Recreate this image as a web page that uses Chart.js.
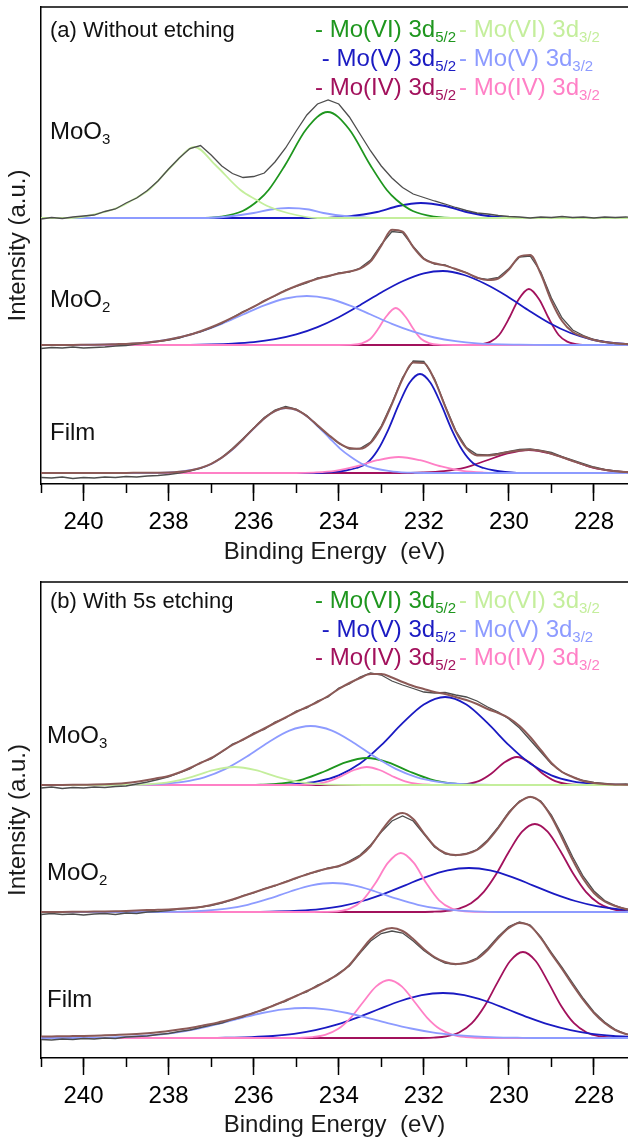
<!DOCTYPE html>
<html>
<head>
<meta charset="utf-8">
<script src="https://cdn.jsdelivr.net/npm/chart.js@4.4.0/dist/chart.umd.min.js"></script>
<style>
  body { margin: 0; background: #fff; }
  canvas { display: block; }
</style>
</head>
<body>
<canvas id="chartA" width="628" height="575"></canvas>
<canvas id="chartB" width="628" height="567"></canvas>
<script>
// binding energy grid (eV) for measured spectra and envelopes
const energy = [241,240.75,240.5,240.25,240,239.75,239.5,239.25,239,238.75,238.5,238.25,238,237.75,237.5,237.25,237,236.75,236.5,236.25,236,235.75,235.5,235.25,235,234.75,234.5,234.25,234,233.75,233.5,233.25,233,232.75,232.5,232.25,232,231.75,231.5,231.25,231,230.75,230.5,230.25,230,229.75,229.5,229.25,229,228.75,228.5,228.25,228,227.75,227.5,227.25,227];

const sampleNames = [["MoO", "3"], ["MoO", "2"], ["Film", ""]];
const offsetsA = [266, 139, 11];
const offsetsB = [273, 146, 20];
const xTicks = [240, 238, 236, 234, 232, 230, 228];

// ---- (a) without etching ----
const a3_raw = [-1,0.5,-0.5,1,2,3,6.5,9,15,20,27.5,37,49,60,69.5,72.5,63,52,44.5,40.5,41.5,45,56,70,87,103,114,118,114,101,84,67,52,40,30.5,24,20.5,17,14,10.5,7.5,5,4,2.5,1.5,1,0,1,0.5,1.5,0.5,1,0,1,0.5,1,0.5];
const a3_VI32 = [[241.2,0],[240.3,0],[239.6,5],[239.1,12],[238.85,18],[238.47,28],[237.9,53],[237.39,71],[236.9,53],[236.31,28],[235.93,18],[235.68,12],[235.2,5],[234.5,0],[227,0]];
const a3_VI52 = [[241.2,0],[237.3,0],[236.76,1.4],[236.26,7],[235.88,18],[235.65,28],[235.26,53],[234.76,89],[234.26,106],[233.76,89],[233.26,53],[232.87,28],[232.64,18],[232.26,7],[231.76,1.4],[231.2,0],[227,0]];
const a3_V32 = [[241.2,0],[237.2,0],[236.6,1.5],[236.0,5],[235.6,8.5],[235.18,10],[234.7,8.5],[234.36,5],[233.76,1.5],[233.1,0],[227,0]];
const a3_V52 = [[241.2,0],[234.4,0],[233.8,1.5],[233.1,6],[232.6,12],[232.07,15],[231.5,12],[231.0,6],[230.4,1.5],[229.8,0],[227,0]];

const a2_env = [0,0,0.1,0.1,0.2,0.3,0.5,0.8,1.1,1.7,2.6,3.8,5.5,7.7,10.3,13.8,17.7,22.3,27.3,32.8,38.3,44,49.4,54.5,59,63,66.3,69,71.4,73.5,76.4,83.6,99.4,115.3,113.3,97.9,86.1,81.7,79.4,76,72.1,67.5,65,66.5,75.5,88.4,89.9,71,44,24,13,8.5,5,3,1.8,0.9,0.4];
const a2_raw = [-3.5,-2.5,-3,-2,-3,-2.5,-2,-1,-0.5,1,2,3.5,5,7,10.5,13,17,21.5,27.5,33.5,38,44.5,49,55,58.5,62,67,68.5,72,73,77,85,100.5,113.5,112.5,98.5,86.5,81,80,75.5,72.5,67,65.5,67.5,76.5,88,89,73,47,27,15,9.5,5.5,3,1.5,1,0.5];
const a2_V32 = [[241.2,0],[240.5,0],[239.75,0.3],[238.75,1.7],[238.25,3.8],[237.75,7.5],[237.25,13.3],[236.75,21.1],[236.25,30.5],[235.75,39.7],[235.25,46.5],[234.75,49],[234.25,46.5],[233.75,39.7],[233.25,30.5],[232.75,21.1],[232.25,13.3],[231.75,7.5],[231.25,3.8],[230.75,1.7],[229.75,0.3],[229,0],[227,0]];
const a2_V52 = [[241.2,0],[238.5,0],[237.5,0.2],[237,0.6],[236.5,1.4],[236,2.9],[235.5,5.8],[235,10.6],[234.5,17.9],[234,27.8],[233.5,39.8],[233,52.5],[232.5,63.7],[232,71.6],[231.55,74],[231.05,70],[230.55,61],[230.05,49],[229.55,35],[229.05,22],[228.55,12],[228.05,5.5],[227.55,2],[227.05,0.5]];
const a2_IV32 = [[241.2,0],[234,0],[233.66,0.3],[233.46,1.7],[233.26,6],[233.06,17],[232.91,27],[232.66,37],[232.41,27],[232.26,17],[232.06,6],[231.86,1.7],[231.66,0.3],[231.3,0],[227,0]];
const a2_IV52 = [[241.2,0],[231,0],[230.73,0.4],[230.43,3.4],[230.23,10],[229.98,28],[229.78,45],[229.53,56],[229.28,45],[229.08,28],[228.83,10],[228.63,3.4],[228.33,0.4],[228,0],[227,0]];

const aF_env = [0.1,0.1,0.1,0.1,0.1,0.1,0.1,0.1,0.1,0.15,0.2,0.3,0.55,1.25,2.6,5.1,9.2,15.3,23.7,33.8,44.6,54.6,61.9,65,63.2,56.8,47.8,38.6,30.1,24.9,24.2,30.2,45.8,68.9,94,110.4,110.1,93.1,66.7,41.6,24.8,17.6,17.4,18.7,21.1,22.6,23.2,21.9,19.3,15.8,12,8.4,5.4,3.2,1.8,0.9,0.4];
const aF_raw = [-4.5,-5,-4,-5.5,-4.5,-5,-4,-4.5,-3.5,-4,-3,-2.5,-1.5,0,2,4.5,9,15.5,24.5,34.5,45,55.5,63,66.5,64,57.5,47,38,29.5,24,24.5,31,47,70,95.5,112,111.5,94.5,67.5,42.5,25.5,18.5,18,19.5,21.5,23.5,24,22.5,20.5,16.5,13,9.5,6,3.5,2,1,0.5];
const aF_V32 = [[241.2,0],[238.5,0],[237.72,1.4],[237.22,5.3],[236.97,9.5],[236.72,16.2],[236.47,24.4],[236.22,35],[235.97,45.7],[235.72,55.7],[235.47,62.5],[235.22,65],[234.97,62.5],[234.72,55.7],[234.47,45.7],[234.22,35],[233.97,24.4],[233.72,16.2],[233.47,9.5],[233.22,5.3],[232.72,1.4],[232.22,0.25],[231.5,0],[227,0]];
const aF_V52 = [[241.2,0],[234.6,0],[234.09,1.2],[233.84,2.5],[233.59,5],[233.34,9.7],[233.09,22.4],[232.84,42.9],[232.59,68.3],[232.34,90],[232.09,99],[231.84,90],[231.59,68.3],[231.34,42.9],[231.09,22.4],[230.84,9.7],[230.59,5],[230.34,2.5],[230.09,1.2],[229.6,0],[227,0]];
const aF_IV32 = [[241.2,0],[235.0,0],[234.59,0.45],[234.09,2.1],[233.59,6.6],[233.09,12.8],[232.59,16],[232.09,12.8],[231.59,6.6],[231.09,2.1],[230.59,0.45],[230.0,0],[227,0]];
const aF_IV52 = [[241.2,0],[232.6,0],[232.03,0.5],[231.53,1.9],[231.03,5.4],[230.53,12.5],[230.03,19.6],[229.53,23],[229.03,19.6],[228.53,12.5],[228.03,5.4],[227.53,1.9],[227.03,0.5]];

// ---- (b) with 5s etching ----
const b3_env = [0,0,0.1,0.2,0.3,0.4,0.7,1.2,2,3.3,5,7,9,12.5,17,22,27,33.5,40,45.5,51,56.5,62,67.5,73,78,83,89,96,102,107,111,111,107.5,103,99,96,93,91,88,85,81,76,72,67,59,48,35,22,13,8,4,2,1,0.5,0.2,0];
const b3_raw = [-3,-2,-3.5,-2.5,-3,-2,-2.5,-1.5,-1,1,3,5.5,8,12,16,22.5,26,33,41,45,52,55.5,63,67,74,77,84,88,97,101,108,112,110,104,100,96.5,93,92,92.5,90,88,84,78,73,66,57,45,33,21,13,8,4.5,2.5,1.5,0.5,1,0.5];
const b3_VI32 = [[241.2,0],[239.5,0],[238.95,0.1],[238.45,0.8],[237.95,3.1],[237.45,8.2],[236.95,14.8],[236.45,18],[235.95,14.8],[235.45,8.2],[234.95,3.1],[234.45,0.8],[233.95,0.1],[233.4,0],[227,0]];
const b3_VI52 = [[241.2,0],[236.4,0],[235.84,0.35],[235.34,1.7],[234.84,5.7],[234.34,13.5],[233.84,22.7],[233.34,27],[232.84,22.7],[232.34,13.5],[231.84,5.7],[231.34,1.7],[230.84,0.35],[230.3,0],[227,0]];
const b3_V32 = [[241.2,0],[239.2,0],[238.66,0.3],[238.16,1.1],[237.66,3.2],[237.16,7.7],[236.66,16.1],[236.16,28.4],[235.66,42.6],[235.16,54.4],[234.66,59],[234.16,54.4],[233.66,42.6],[233.16,28.4],[232.66,16.1],[232.16,7.7],[231.66,3.2],[231.16,1.1],[230.66,0.3],[230.2,0],[227,0]];
const b3_V52 = [[241.2,0],[235.9,0],[235.5,0.3],[235,1.2],[234.5,3.7],[234,9.7],[233.5,21.4],[233,39.8],[232.5,61.8],[232,80.5],[231.5,88],[231,80.5],[230.5,61.8],[230,39.8],[229.5,21.4],[229,9.7],[228.5,3.7],[228,1.2],[227.5,0.3],[227,0]];
const b3_IV32 = [[241.2,0],[235.2,0],[234.84,0.2],[234.54,1],[234.24,3.6],[233.94,8.8],[233.64,15],[233.34,18],[233.04,15],[232.74,8.8],[232.44,3.6],[232.14,1],[231.84,0.2],[231.4,0],[227,0]];
const b3_IV52 = [[241.2,0],[231.6,0],[231.31,0.1],[231.01,0.8],[230.71,3.8],[230.41,11.5],[230.11,22.4],[229.81,28],[229.51,22.4],[229.21,11.5],[228.91,3.8],[228.61,0.8],[228.31,0.1],[227.9,0],[227,0]];

const b2_env = [0,0,0.1,0.2,0.3,0.4,0.6,0.8,1,1.4,1.9,2.2,2.5,3.2,4,5,7,9.5,12.5,16,19.5,23,26.5,30,34,37.5,41,43.5,46,50,56,66,81,94,99,93,79,66,59,57,58,62,71,84,99,110,115,110,95,74,52,33,19,10.5,6,3,1.5];
const b2_raw = [-2.5,-1.5,-2.5,-2,-3,-2,-1.5,-2.5,-1,-1.5,0,0.5,1.5,3,3.5,5,6.5,9,12,16.5,19,23.5,26,30.5,33.5,38,40.5,44,45.5,51,57,67,80,91,96,91,78,65,58,56.5,58.5,62.5,72,85,100,111,115.5,111,97,77,55,35.5,21,11.5,6.5,3,1.5];
const b2_V32 = [[241.2,0],[238.2,0],[237.64,0.4],[237.14,1.3],[236.64,3.3],[236.14,7.2],[235.64,13.3],[235.14,20.5],[234.64,26.6],[234.14,29],[233.64,26.6],[233.14,20.5],[232.64,13.3],[232.14,7.2],[231.64,3.3],[231.14,1.3],[230.64,0.4],[230.1,0],[227,0]];
const b2_IV32 = [[241.2,0],[234.6,0],[234.34,0.1],[234.04,0.65],[233.74,3.3],[233.44,11.7],[233.14,28.7],[232.84,49.3],[232.54,59],[232.24,49.3],[231.94,28.7],[231.64,11.7],[231.34,3.3],[231.04,0.65],[230.74,0.1],[230.4,0],[227,0]];
const b2_V52 = [[241.2,0],[236.4,0],[235.94,0.17],[235.44,0.5],[234.94,1.3],[234.44,2.9],[233.94,5.9],[233.44,11],[232.94,18.1],[232.44,26.7],[231.94,35.2],[231.44,41.6],[230.94,44],[230.44,41.6],[229.94,35.2],[229.44,26.7],[228.94,18.1],[228.44,11],[227.94,5.9],[227.44,2.9],[226.94,1.3]];
const b2_IV52 = [[241.2,0],[232.2,0],[231.79,0.25],[231.49,1],[231.19,3.2],[230.89,8.8],[230.59,20.2],[230.29,38.5],[229.99,61],[229.69,80.3],[229.39,88],[229.09,80.3],[228.79,61],[228.49,38.5],[228.19,20.2],[227.89,8.8],[227.59,3.2],[227.29,1],[226.99,0.25]];

const bF_env = [1.5,1.6,1.8,1.9,2,2.3,2.7,3.1,3.5,4.1,4.8,5.7,7,8.5,10,12,14,16.5,19,22,25,29,33,37.5,42,47,52,58,64,73,86,99,107,110,107,99,89,81,76,74,75,79,88,100,110,115,112,100,84,69,53,38,25,15,8,4,2];
const bF_raw = [-1.5,-2,-1,-1.5,-0.5,-1,0,-0.5,1,1.5,2,3.5,4.5,6.5,8,10.5,13,15,18.5,21,25.5,28,33.5,36.5,42.5,46,53,57,65,72,85,97,104.5,107,105,97,87.5,80,75,73.5,75.5,80,89.5,101.5,111.5,116,113,101,85.5,70.5,55,39.5,26,16,8.5,4,2];
const bF_V32 = [[241.2,0],[240.3,0],[239.8,0.3],[239.3,0.7],[238.8,1.6],[238.3,3.2],[237.8,5.7],[237.3,9.5],[236.8,14.4],[236.3,19.9],[235.8,25],[235.3,28.6],[234.8,30],[234.3,28.6],[233.8,25],[233.3,19.9],[232.8,14.4],[232.3,9.5],[231.8,5.7],[231.3,3.2],[230.8,1.6],[230.3,0.7],[229.8,0.3],[229.2,0],[227,0]];
const bF_IV32 = [[241.2,0],[235.2,0],[234.92,0.2],[234.62,0.9],[234.32,3.1],[234.02,8.9],[233.72,20.2],[233.42,36.3],[233.12,51.6],[232.82,58],[232.52,51.6],[232.22,36.3],[231.92,20.2],[231.62,8.9],[231.32,3.1],[231.02,0.9],[230.72,0.2],[230.4,0],[227,0]];
const bF_V52 = [[241.2,0],[237.0,0],[236.55,0.35],[236.05,0.9],[235.55,2],[235.05,4.1],[234.55,7.8],[234.05,13.3],[233.55,20.6],[233.05,29],[232.55,37],[232.05,42.9],[231.55,45],[231.05,42.9],[230.55,37],[230.05,29],[229.55,20.6],[229.05,13.3],[228.55,7.8],[228.05,4.1],[227.55,2],[227.05,0.9]];
const bF_IV52 = [[241.2,0],[232.2,0],[231.77,0.4],[231.47,1.6],[231.17,5.5],[230.87,14.8],[230.57,32],[230.27,55.4],[229.97,77],[229.67,86],[229.37,77],[229.07,55.4],[228.77,32],[228.47,14.8],[228.17,5.5],[227.87,1.6],[227.57,0.4],[227.2,0]];

const legendStates = ["Mo(VI)", "Mo(V)", "Mo(IV)"];
const legendKeys = [["VI52", "VI32"], ["V52", "V32"], ["IV52", "IV32"]];

const colors = {
  VI52: "#1e961e", VI32: "#c4ee9c",
  V52: "#1a1ac2", V32: "#8d9bff",
  IV52: "#a2115c", IV32: "#ff80c6",
  env: "#8c5a57", raw: "#4d4d4d"
};
const fam = '"Liberation Sans", Arial, Helvetica, sans-serif';
Chart.defaults.font.family = fam;
Chart.defaults.color = "#111";

const panelA = {
  offsets: offsetsA,
  spectra: [
    { raw: a3_raw, parts: [["VI32", a3_VI32], ["V32", a3_V32], ["VI52", a3_VI52], ["V52", a3_V52]] },
    { env: a2_env, raw: a2_raw, parts: [["V32", a2_V32], ["IV32", a2_IV32], ["V52", a2_V52], ["IV52", a2_IV52]] },
    { env: aF_env, raw: aF_raw, parts: [["V32", aF_V32], ["IV32", aF_IV32], ["V52", aF_V52], ["IV52", aF_IV52]] }
  ]
};
const panelB = {
  offsets: offsetsB,
  spectra: [
    { env: b3_env, raw: b3_raw, parts: [["VI32", b3_VI32], ["V32", b3_V32], ["IV32", b3_IV32], ["VI52", b3_VI52], ["V52", b3_V52], ["IV52", b3_IV52]] },
    { env: b2_env, raw: b2_raw, parts: [["V32", b2_V32], ["IV32", b2_IV32], ["V52", b2_V52], ["IV52", b2_IV52]] },
    { env: bF_env, raw: bF_raw, parts: [["V32", bF_V32], ["IV32", bF_IV32], ["V52", bF_V52], ["IV52", bF_IV52]] }
  ]
};

function curve(points, off, color, width, smooth) {
  return {
    data: points.map(p => ({ x: p[0], y: p[1] + off })),
    borderColor: color,
    borderWidth: width,
    pointRadius: 0,
    fill: false,
    tension: 0,
    cubicInterpolationMode: smooth ? "monotone" : "default"
  };
}

function buildDatasets(panel) {
  const out = [];
  panel.spectra.forEach((sp, k) => {
    const off = panel.offsets[k];
    if (sp.env) out.push(curve(energy.map((e, i) => [e, sp.env[i]]), off, colors.env, 2, true));
    out.push(curve(energy.map((e, i) => [e, sp.raw[i]]), off, colors.raw, 1.3, false));
    sp.parts.forEach(([key, pts]) => out.push(curve(pts, off, colors[key], 1.8, true)));
  });
  return out;
}

// text with a subscript, returns its width
function subText(ctx, main, sub, x, y, color, size, subSize, draw) {
  ctx.font = size + "px " + fam;
  const w1 = ctx.measureText(main).width;
  ctx.font = subSize + "px " + fam;
  const w2 = sub ? ctx.measureText(sub).width : 0;
  if (draw) {
    ctx.fillStyle = color;
    ctx.font = size + "px " + fam;
    ctx.fillText(main, x, y);
    if (sub) {
      ctx.font = subSize + "px " + fam;
      ctx.fillText(sub, x + w1, y + 5);
    }
  }
  return w1 + w2;
}

const panelDecor = {
  id: "panelDecor",
  afterDraw(chart, args, o) {
    const { ctx, chartArea: ca } = chart;
    ctx.save();
    ctx.strokeStyle = "#000";
    ctx.lineWidth = 1.5;
    ctx.beginPath();
    ctx.moveTo(ca.left, ca.top);
    ctx.lineTo(ca.right, ca.top);
    ctx.stroke();

    ctx.textAlign = "left";
    ctx.textBaseline = "alphabetic";
    ctx.fillStyle = "#111";
    ctx.font = "22px " + fam;
    ctx.fillText(o.title, o.titleX, o.titleY);

    legendStates.forEach((st, i) => {
      const y = o.legendY[i];
      const t = "- " + st + " 3d";
      const w = subText(ctx, t, "5/2", 0, 0, null, 24, 15, false);
      subText(ctx, t, "5/2", o.legendMid - 2 - w, y, colors[legendKeys[i][0]], 24, 15, true);
      subText(ctx, t, "3/2", o.legendMid + 1, y, colors[legendKeys[i][1]], 24, 15, true);
    });

    sampleNames.forEach((n, i) => {
      subText(ctx, n[0], n[1], o.labelX, o.labelY[i], "#111", 24, 15, true);
    });
    ctx.restore();
  }
};

function makeChart(id, panel, yMax, xAxisH, titlePad, decor) {
  return new Chart(document.getElementById(id), {
    type: "line",
    data: { datasets: buildDatasets(panel) },
    plugins: [panelDecor],
    options: {
      responsive: false,
      animation: false,
      events: [],
      layout: { padding: { top: 7, left: 0, right: 0, bottom: 0 } },
      plugins: {
        legend: { display: false },
        tooltip: { enabled: false },
        panelDecor: decor
      },
      scales: {
        x: {
          type: "linear", reverse: true, min: 227.2, max: 241, weight: 1,
          afterBuildTicks: s => { s.ticks = xTicks.map(v => ({ value: v })); },
          ticks: { color: "#000", font: { size: 24 }, padding: 7, maxRotation: 0, autoSkip: false },
          grid: { drawOnChartArea: false, tickLength: 17, tickColor: "#000", tickWidth: 1.5 },
          border: { display: true, color: "#000", width: 1.5 },
          title: { display: true, text: "Binding Energy  (eV)", color: "#1a1a1a", font: { size: 24 }, padding: { top: 0, bottom: titlePad } },
          afterFit: s => { s.height = xAxisH; }
        },
        xMinor: {
          type: "linear", position: "bottom", reverse: true, min: 227.2, max: 241, weight: 0,
          ticks: { stepSize: 1, includeBounds: false, display: false },
          grid: { drawOnChartArea: false, tickLength: 9, tickColor: "#000", tickWidth: 1.5 },
          border: { display: false },
          afterFit: s => { s.height = 0; }
        },
        y: {
          min: 0, max: yMax,
          ticks: { display: false },
          grid: { display: false },
          border: { display: true, color: "#000", width: 1.5 },
          title: { display: true, text: "Intensity (a.u.)", color: "#1a1a1a", font: { size: 24 }, padding: { top: 4, bottom: 0 } },
          afterFit: s => { s.width = 41; }
        }
      }
    }
  });
}

makeChart("chartA", panelA, 477, 91, 8, {
  title: "(a) Without etching", titleX: 50, titleY: 37,
  legendMid: 458, legendY: [37, 66, 95],
  labelX: 50, labelY: [139, 307, 440]
});
makeChart("chartB", panelB, 476, 84, 2, {
  title: "(b) With 5s etching", titleX: 50, titleY: 33,
  legendMid: 458, legendY: [33, 62, 90],
  labelX: 47, labelY: [168, 305, 432]
});
</script>
</body>
</html>
